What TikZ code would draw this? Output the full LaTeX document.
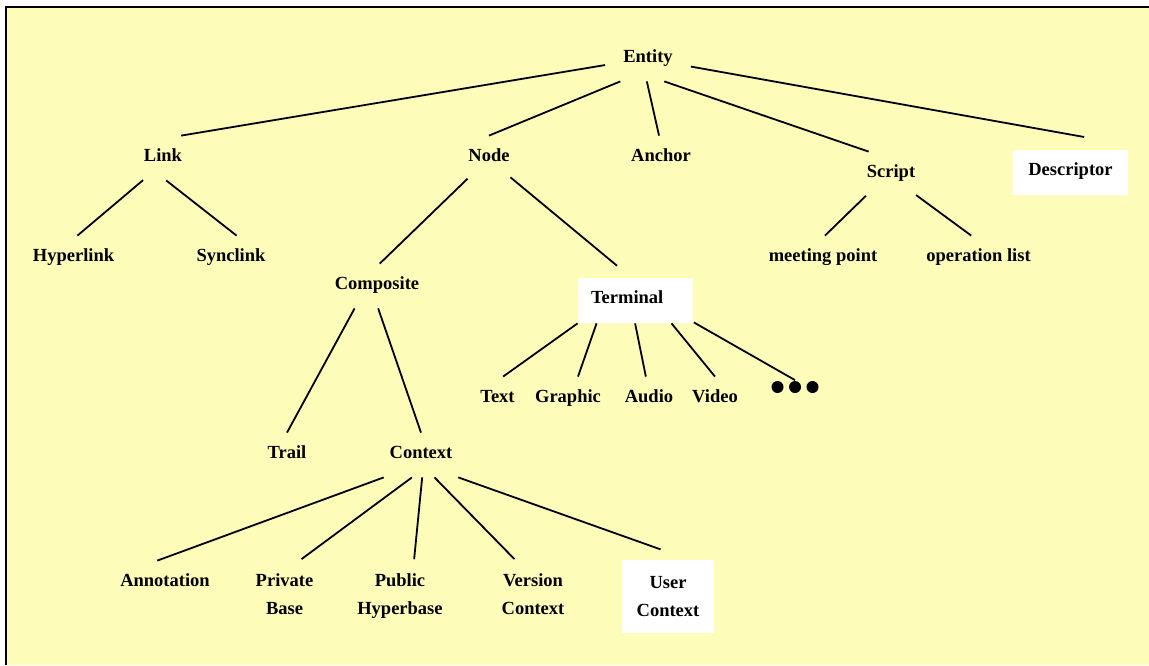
\documentclass[tikz,border=0pt]{standalone}
\usepackage{fontspec}
\setmainfont{Liberation Serif}
\usepackage{tikz}
\definecolor{paper}{RGB}{253,253,185}
\newcommand{\lblfont}{\bfseries\fontsize{18.5}{28}\selectfont}
\tikzset{
  lbl/.style    = {font=\lblfont, inner xsep=0pt, inner ysep=0pt, text height=25pt, text depth=18pt},
  pair/.style   = {font=\lblfont, align=center, inner xsep=0pt, inner ysep=13.5pt},
  box/.style    = {font=\lblfont, fill=white, inner sep=0pt, text height=12.5pt, text depth=6pt,
                   minimum width=115pt, minimum height=45pt},
  upair/.style  = {pair, fill=white, inner ysep=0pt, minimum width=92pt, minimum height=73pt},
  etc/.style    = {inner sep=0pt, minimum width=47pt, minimum height=12pt,
                   path picture={\foreach \dx in {-17.5,0,17.5}
                     \fill ([xshift=\dx pt]path picture bounding box.center) circle (6pt);}}
}
\begin{document}
\begin{tikzpicture}[x=1pt, y=1pt, line width=1.8pt]

% Frame
\useasboundingbox (0,0) rectangle (1149,-665);
\fill[white] (0,0) rectangle (1149,-665);
\fill[paper] (6,-7) rectangle (1149,-665);
\draw[line width=2pt] (6,-665) -- (6,-7) -- (1149,-7);

% Top level
\draw node [lbl, minimum width=84pt] (entity) at (648,-59) {Entity};
\draw node [lbl] (link) at (163,-158) {Link};
\draw node [lbl] (nd) at (489,-158) {Node};
\draw node [lbl] (anchor) at (661,-158) {Anchor};
\draw node [lbl] (script) at (891,-174) {Script};
\draw node [box, outer sep=13pt] (descriptor) at (1070.5,-172.5) {Descriptor};

% Second level
\draw node [lbl] (hyperlink) at (73.5,-258) {Hyperlink};
\draw node [lbl] (synclink) at (231,-258) {Synclink};
\draw node [lbl] (meeting) at (823,-258) {meeting point};
\draw node [lbl] (operation) at (978.5,-258) {operation list};
\draw node [lbl] (composite) at (377,-286) {Composite};
\draw node [box] (terminal) at (635.5,-300) {\makebox[89pt][l]{Terminal}};

% Terminal kinds
\draw node [lbl] (text) at (497.5,-399) {Text};
\draw node [lbl] (graphic) at (568,-399) {Graphic};
\draw node [lbl] (audio) at (649,-399) {Audio};
\draw node [lbl] (video) at (715,-399) {Video};
\draw node [etc] (more) at (795,-387) {};

% Composite kinds
\draw node [lbl] (trail) at (287,-455) {Trail};
\draw node [lbl, minimum width=80pt] (context) at (421,-455) {Context};

% Context kinds
\draw node [lbl] (annotation) at (165,-583) {Annotation};
\draw node [pair] (private) at (284.5,-594) {Private\\Base};
\draw node [pair] (public) at (400,-596) {Public\\Hyperbase};
\draw node [pair] (version) at (533,-594) {Version\\Context};
\draw node [upair] (user) at (668,-596.5) {User\\Context};

% Connections
\draw (entity.188) -- (link.51);
\draw (entity.219) -- (nd.north);
\draw (entity.267) -- (anchor.95);
\draw (entity.306) -- (script.135);
\draw (entity.350) -- (descriptor.69);
\draw (link.228) -- (hyperlink.80);
\draw (link.278) -- (synclink.76);
\draw (nd.224) -- (composite.83);
\draw[shorten >=17pt] (nd.318) -- (terminal.103);
\draw (script.221) -- (meeting.85);
\draw (script.320) -- (operation.108);
\draw (composite.225) -- (trail.north);
\draw (composite.273) -- (context.north);
\draw (terminal.202) -- (text.76);
\draw (terminal.211) -- (graphic.66);
\draw (terminal.269) -- (audio.98);
\draw (terminal.327) -- (video.north);
\draw (terminal.339) -- (more.north);
\draw (context.211) -- (annotation.109);
\draw (context.248) -- (private.64);
\draw (context.273) -- (public.69);
\draw (context.301) -- (version.118);
\draw[shorten >=29pt] (context.329) -- (user.62);

\end{tikzpicture}
\end{document}
